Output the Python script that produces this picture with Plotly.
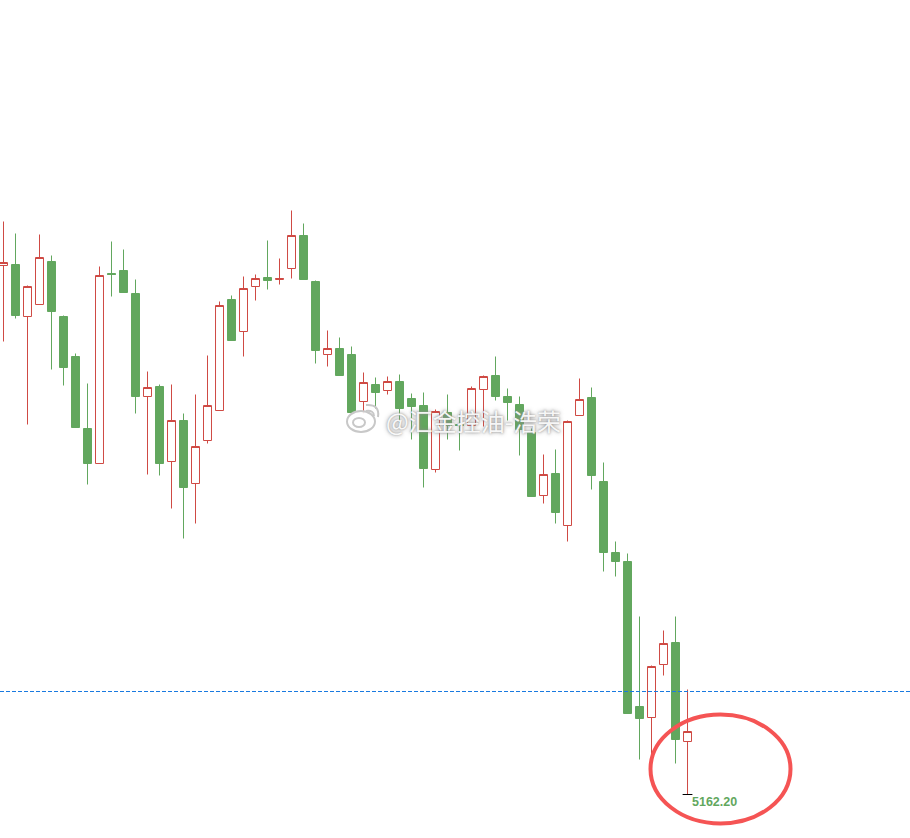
import plotly.graph_objects as go

index = list(range(58))
high = [5735.2,5723.2,5671.2,5722.2,5701.2,5641.2,5603.2,5573.2,5690.2,5715.2,
        5707.2,5677.2,5585.2,5572.2,5572.2,5543.2,5562.2,5601.2,5655.2,5661.2,
        5680.2,5682.2,5716.2,5698.2,5746.2,5733.2,5676.2,5626.2,5619.2,5610.2,
        5584.2,5579.2,5580.2,5582.2,5563.2,5564.2,5547.2,5562.2,5542.2,5570.2,
        5581.2,5600.2,5568.2,5560.2,5528.2,5502.2,5507.2,5536.2,5578.2,5569.2,
        5494.2,5415.2,5403.2,5340.2,5291.2,5326.2,5340.2,5267.2]
low = [5615.2,5638.2,5532.2,5652.2,5587.2,5571.2,5529.2,5472.2,5493.2,5660.2,
       5664.2,5543.2,5482.2,5481.2,5448.2,5418.2,5433.2,5513.2,5546.2,5616.2,
       5600.2,5656.2,5667.2,5672.2,5678.2,5677.2,5593.2,5590.2,5581.2,5544.2,
       5543.2,5548.2,5562.2,5534.2,5517.2,5469.2,5484.2,5517.2,5506.2,5531.2,
       5530.2,5556.2,5536.2,5501.2,5460.2,5453.2,5433.2,5415.2,5541.2,5467.2,
       5385.2,5380.2,5243.2,5197.2,5201.2,5281.2,5193.2,5162.2]
open_ = [5691.2,5692.2,5640.2,5652.2,5695.2,5640.2,5600.2,5528.2,5493.2,5683.2,
         5686.2,5663.2,5560.2,5570.2,5495.2,5536.2,5473.2,5516.2,5546.2,5657.2,
         5625.2,5670.2,5679.2,5677.2,5688.2,5721.2,5675.2,5602.2,5608.2,5602.2,
         5555.2,5572.2,5566.2,5575.2,5558.2,5551.2,5487.2,5544.2,5532.2,5531.2,
         5567.2,5581.2,5560.2,5552.2,5524.2,5461.2,5483.2,5431.2,5541.2,5559.2,
         5475.2,5404.2,5395.2,5250.2,5239.2,5292.2,5314.2,5215.2]
close = [5694.2,5641.2,5670.2,5699.2,5645.2,5589.2,5529.2,5493.2,5681.2,5682.2,
         5664.2,5560.2,5569.2,5493.2,5536.2,5469.2,5510.2,5551.2,5651.2,5616.2,
         5668.2,5678.2,5676.2,5678.2,5721.2,5677.2,5606.2,5608.2,5581.2,5544.2,
         5574.2,5564.2,5575.2,5548.2,5550.2,5488.2,5545.2,5531.2,5531.2,5568.2,
         5580.2,5560.2,5554.2,5527.2,5460.2,5482.2,5444.2,5535.2,5557.2,5481.2,
         5404.2,5395.2,5243.2,5238.2,5290.2,5313.2,5217.2,5225.2]

LEVEL = 5265.2
LOW_LABEL = "5162.20"
WATERMARK = "@汇金控油-浩荣"

RED = "#cf4a44"
GREEN = "#62a75e"
BLUE = "#1a7ae0"
CIRCLE = "#f55454"


def px(x):
    return x / 910


def py(y):
    return 1 - y / 838


fig = go.Figure()
fig.add_trace(go.Candlestick(
    x=index, open=open_, high=high, low=low, close=close,
    increasing=dict(line=dict(color=RED, width=1), fillcolor="white"),
    decreasing=dict(line=dict(color=GREEN, width=1), fillcolor=GREEN),
    whiskerwidth=0, showlegend=False, hoverinfo="skip",
))
fig.add_trace(go.Scatter(
    x=[index[-1]], y=[low[-1]], mode="markers", showlegend=False, hoverinfo="skip",
    marker=dict(symbol="line-ew", size=7, line=dict(color="black", width=1)),
))

shapes = [
    dict(type="line", xref="paper", x0=0, x1=1, yref="y", y0=LEVEL, y1=LEVEL,
         line=dict(color=BLUE, width=1, dash="4px,2px"), layer="above"),
    dict(type="circle", xref="paper", yref="paper",
         x0=px(650.5), x1=px(790.5), y0=py(823.5), y1=py(714.5),
         line=dict(color=CIRCLE, width=4), fillcolor="rgba(0,0,0,0)", layer="above"),
    # Weibo-style watermark logo
    dict(type="circle", xref="paper", yref="paper",
         x0=px(347), x1=px(375), y0=py(432), y1=py(411),
         line=dict(color="#c8c8c8", width=2), fillcolor="rgba(255,255,255,0.9)", layer="above"),
    dict(type="circle", xref="paper", yref="paper",
         x0=px(353), x1=px(365), y0=py(427), y1=py(418),
         line=dict(color="#c8c8c8", width=2), fillcolor="rgba(255,255,255,0.9)", layer="above"),
    dict(type="path", xref="paper", yref="paper",
         path=f"M {px(366)} {py(411)} Q {px(374)} {py(410)} {px(374)} {py(416)}",
         line=dict(color="#c8c8c8", width=2), layer="above"),
    dict(type="path", xref="paper", yref="paper",
         path=f"M {px(366)} {py(405)} Q {px(380)} {py(404)} {px(378)} {py(417)}",
         line=dict(color="#c8c8c8", width=2), layer="above"),
]

annotations = [
    dict(x=index[-1], y=low[-1], xref="x", yref="y", text=f"<b>{LOW_LABEL}</b>",
         showarrow=False, xanchor="left", yanchor="middle", xshift=2, yshift=-7,
         font=dict(family="Liberation Sans, Arial, sans-serif", size=12.5, color=GREEN)),
    dict(x=px(384), y=py(420), xref="paper", yref="paper", text=WATERMARK,
         showarrow=False, xanchor="left", yanchor="middle",
         font=dict(family="Noto Sans CJK SC, sans-serif", size=24, color="rgba(255,255,255,0.92)",
                   shadow="0 0 4px #8a8a8a, 0 0 2px #999999")),
]

fig.update_layout(
    width=910, height=838, margin=dict(l=0, r=0, t=0, b=0),
    paper_bgcolor="white", plot_bgcolor="white", boxgap=0.05,
    shapes=shapes, annotations=annotations, showlegend=False,
    xaxis=dict(range=[-0.2917, 75.54], visible=False, rangeslider=dict(visible=False),
               fixedrange=True),
    yaxis=dict(range=[5118.7, 5956.7], visible=False, fixedrange=True),
)

fig.write_html("out.html", config=dict(displayModeBar=False),
               post_script="document.body.style.margin='0';document.body.style.overflow='hidden';")
